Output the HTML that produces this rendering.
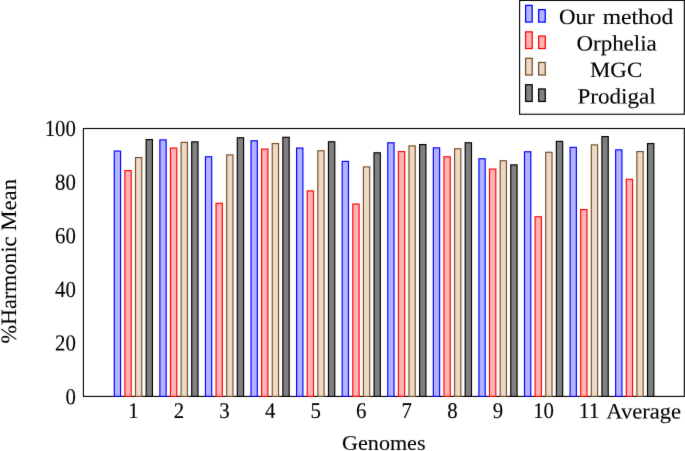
<!DOCTYPE html>
<html><head><meta charset="utf-8"><title>Chart</title>
<style>
html,body{margin:0;padding:0;background:#fff;}
svg{display:block;}
text{font-family:"Liberation Serif",serif;font-size:21.9px;fill:#000;stroke:#000;stroke-width:0.12px;}
.d{font-size:22.4px;}
.dy{font-size:23px;}
.b{fill:#b3b3ff;stroke:#0000ff;stroke-width:1.15;}
.r{fill:#ffb3b3;stroke:#ff0000;stroke-width:1.15;}
.t{fill:#ecd9c6;stroke:#734d26;stroke-width:1.15;}
.g{fill:#808080;stroke:#000000;stroke-width:1.15;}
.ax{fill:none;stroke:#000;stroke-width:1.1;}
.lg{stroke-width:1.25;}
</style></head><body>
<svg width="685" height="451" viewBox="0 0 685 451">
<defs><filter id="soft" color-interpolation-filters="sRGB" x="0" y="0" width="685" height="451" filterUnits="userSpaceOnUse"><feConvolveMatrix order="3" kernelMatrix="0.00524 0.06192 0.00524 0.06192 0.73137 0.06192 0.00524 0.06192 0.00524" divisor="1" edgeMode="duplicate" preserveAlpha="false"/></filter></defs>
<rect x="0" y="0" width="685" height="451" fill="#fff"/>
<g filter="url(#soft)">
<rect class="ax" x="83.4" y="128.5" width="600.9" height="267.9"/>
<g>
<rect class="b" x="114.27" y="151.07" width="6.3" height="245.32"/>
<rect class="r" x="124.89" y="170.57" width="6.3" height="225.82"/>
<rect class="t" x="135.51" y="157.57" width="6.3" height="238.82"/>
<rect class="g" x="146.13" y="139.57" width="6.3" height="256.82"/>
<rect class="b" x="159.85" y="139.88" width="6.3" height="256.52"/>
<rect class="r" x="170.47" y="148.07" width="6.3" height="248.32"/>
<rect class="t" x="181.09" y="142.38" width="6.3" height="254.02"/>
<rect class="g" x="191.71" y="141.88" width="6.3" height="254.52"/>
<rect class="b" x="205.43" y="156.77" width="6.3" height="239.62"/>
<rect class="r" x="216.05" y="203.27" width="6.3" height="193.12"/>
<rect class="t" x="226.67" y="154.88" width="6.3" height="241.52"/>
<rect class="g" x="237.29" y="137.77" width="6.3" height="258.62"/>
<rect class="b" x="251.01" y="140.77" width="6.3" height="255.62"/>
<rect class="r" x="261.63" y="149.07" width="6.3" height="247.32"/>
<rect class="t" x="272.25" y="143.57" width="6.3" height="252.82"/>
<rect class="g" x="282.87" y="137.27" width="6.3" height="259.12"/>
<rect class="b" x="296.59" y="148.07" width="6.3" height="248.32"/>
<rect class="r" x="307.21" y="190.88" width="6.3" height="205.52"/>
<rect class="t" x="317.83" y="150.77" width="6.3" height="245.62"/>
<rect class="g" x="328.45" y="141.77" width="6.3" height="254.62"/>
<rect class="b" x="342.17" y="161.38" width="6.3" height="235.02"/>
<rect class="r" x="352.79" y="204.07" width="6.3" height="192.32"/>
<rect class="t" x="363.41" y="166.88" width="6.3" height="229.52"/>
<rect class="g" x="374.03" y="152.77" width="6.3" height="243.62"/>
<rect class="b" x="387.75" y="142.77" width="6.3" height="253.62"/>
<rect class="r" x="398.37" y="151.57" width="6.3" height="244.82"/>
<rect class="t" x="408.99" y="145.88" width="6.3" height="250.52"/>
<rect class="g" x="419.61" y="144.57" width="6.3" height="251.82"/>
<rect class="b" x="433.33" y="147.88" width="6.3" height="248.52"/>
<rect class="r" x="443.95" y="156.77" width="6.3" height="239.62"/>
<rect class="t" x="454.57" y="148.77" width="6.3" height="247.62"/>
<rect class="g" x="465.19" y="142.77" width="6.3" height="253.62"/>
<rect class="b" x="478.91" y="158.77" width="6.3" height="237.62"/>
<rect class="r" x="489.53" y="169.07" width="6.3" height="227.32"/>
<rect class="t" x="500.15" y="160.77" width="6.3" height="235.62"/>
<rect class="g" x="510.77" y="164.88" width="6.3" height="231.52"/>
<rect class="b" x="524.49" y="151.77" width="6.3" height="244.62"/>
<rect class="r" x="535.11" y="216.77" width="6.3" height="179.62"/>
<rect class="t" x="545.73" y="152.27" width="6.3" height="244.12"/>
<rect class="g" x="556.35" y="141.38" width="6.3" height="255.02"/>
<rect class="b" x="570.07" y="147.38" width="6.3" height="249.02"/>
<rect class="r" x="580.69" y="209.57" width="6.3" height="186.82"/>
<rect class="t" x="591.31" y="144.88" width="6.3" height="251.52"/>
<rect class="g" x="601.93" y="136.57" width="6.3" height="259.82"/>
<rect class="b" x="615.65" y="149.88" width="6.3" height="246.52"/>
<rect class="r" x="626.27" y="179.27" width="6.3" height="217.12"/>
<rect class="t" x="636.89" y="151.57" width="6.3" height="244.82"/>
<rect class="g" x="647.51" y="143.57" width="6.3" height="252.82"/>
</g>
<g>
<text class="d" x="128.2" y="418.05" transform="rotate(0.05 128.2 418.05)" textLength="10.4" lengthAdjust="spacingAndGlyphs">1</text>
<text class="d" x="173.7" y="418.05" transform="rotate(0.05 173.7 418.05)" textLength="10.4" lengthAdjust="spacingAndGlyphs">2</text>
<text class="d" x="219.3" y="418.05" transform="rotate(0.05 219.3 418.05)" textLength="10.4" lengthAdjust="spacingAndGlyphs">3</text>
<text class="d" x="264.9" y="418.05" transform="rotate(0.05 264.9 418.05)" textLength="10.4" lengthAdjust="spacingAndGlyphs">4</text>
<text class="d" x="310.5" y="418.05" transform="rotate(0.05 310.5 418.05)" textLength="10.4" lengthAdjust="spacingAndGlyphs">5</text>
<text class="d" x="356.1" y="418.05" transform="rotate(0.05 356.1 418.05)" textLength="10.4" lengthAdjust="spacingAndGlyphs">6</text>
<text class="d" x="401.6" y="418.05" transform="rotate(0.05 401.6 418.05)" textLength="10.4" lengthAdjust="spacingAndGlyphs">7</text>
<text class="d" x="447.2" y="418.05" transform="rotate(0.05 447.2 418.05)" textLength="10.4" lengthAdjust="spacingAndGlyphs">8</text>
<text class="d" x="492.8" y="418.05" transform="rotate(0.05 492.8 418.05)" textLength="10.4" lengthAdjust="spacingAndGlyphs">9</text>
<text class="d" x="533.2" y="418.05" transform="rotate(0.05 533.2 418.05)" textLength="20.8" lengthAdjust="spacingAndGlyphs">10</text>
<text class="d" x="578.8" y="418.05" transform="rotate(0.05 578.8 418.05)" textLength="20.8" lengthAdjust="spacingAndGlyphs">11</text>
<text x="606.3" y="418.5" transform="rotate(0.05 606.3 418.5)" textLength="74.8" lengthAdjust="spacingAndGlyphs">Average</text>
</g>
<g>
<text class="dy" x="65.5" y="404.20" transform="rotate(0.05 65.5 404.20)" textLength="10.4" lengthAdjust="spacingAndGlyphs">0</text>
<text class="dy" x="55.1" y="350.58" transform="rotate(0.05 55.1 350.58)" textLength="20.8" lengthAdjust="spacingAndGlyphs">20</text>
<text class="dy" x="55.1" y="296.96" transform="rotate(0.05 55.1 296.96)" textLength="20.8" lengthAdjust="spacingAndGlyphs">40</text>
<text class="dy" x="55.1" y="243.34" transform="rotate(0.05 55.1 243.34)" textLength="20.8" lengthAdjust="spacingAndGlyphs">60</text>
<text class="dy" x="55.1" y="189.72" transform="rotate(0.05 55.1 189.72)" textLength="20.8" lengthAdjust="spacingAndGlyphs">80</text>
<text class="dy" x="44.7" y="136.10" transform="rotate(0.05 44.7 136.10)" textLength="31.2" lengthAdjust="spacingAndGlyphs">100</text>
</g>
<text x="342.1" y="450.3" transform="rotate(0.05 342.1 450.3)" textLength="83.4" lengthAdjust="spacingAndGlyphs">Genomes</text>
<text transform="translate(16.1,343.5) rotate(-90.05)"><tspan x="0" y="0" textLength="106.9" lengthAdjust="spacingAndGlyphs">%Harmonic</tspan> <tspan x="112.7" y="0" textLength="51.9" lengthAdjust="spacingAndGlyphs">Mean</tspan></text>
<rect x="519.6" y="0.4" width="164.7" height="113.85" fill="#fff" stroke="#000" stroke-width="1.1"/>
<rect class="b lg" x="525.6" y="5.40" width="6.6" height="16.7"/>
<rect class="b lg" x="538.65" y="9.60" width="6.6" height="12.5"/>
<text transform="translate(559.0 24.00) rotate(0.05)"><tspan x="0" y="0" textLength="35.6" lengthAdjust="spacingAndGlyphs">Our</tspan> <tspan x="43.65" y="0" textLength="70.7" lengthAdjust="spacingAndGlyphs">method</tspan></text>
<rect class="r lg" x="525.6" y="31.85" width="6.6" height="16.7"/>
<rect class="r lg" x="538.65" y="36.05" width="6.6" height="12.5"/>
<text x="576.4" y="50.50" transform="rotate(0.05 576.4 50.50)" textLength="80.4" lengthAdjust="spacingAndGlyphs">Orphelia</text>
<rect class="t lg" x="525.6" y="58.30" width="6.6" height="16.7"/>
<rect class="t lg" x="538.65" y="62.50" width="6.6" height="12.5"/>
<text x="590.0" y="77.00" transform="rotate(0.05 590.0 77.00)" textLength="52.2" lengthAdjust="spacingAndGlyphs">MGC</text>
<rect class="g lg" x="525.6" y="84.75" width="6.6" height="16.7"/>
<rect class="g lg" x="538.65" y="88.95" width="6.6" height="12.5"/>
<text x="577.4" y="103.50" transform="rotate(0.05 577.4 103.50)" textLength="78.2" lengthAdjust="spacingAndGlyphs">Prodigal</text>
</g>
</svg>
</body></html>
